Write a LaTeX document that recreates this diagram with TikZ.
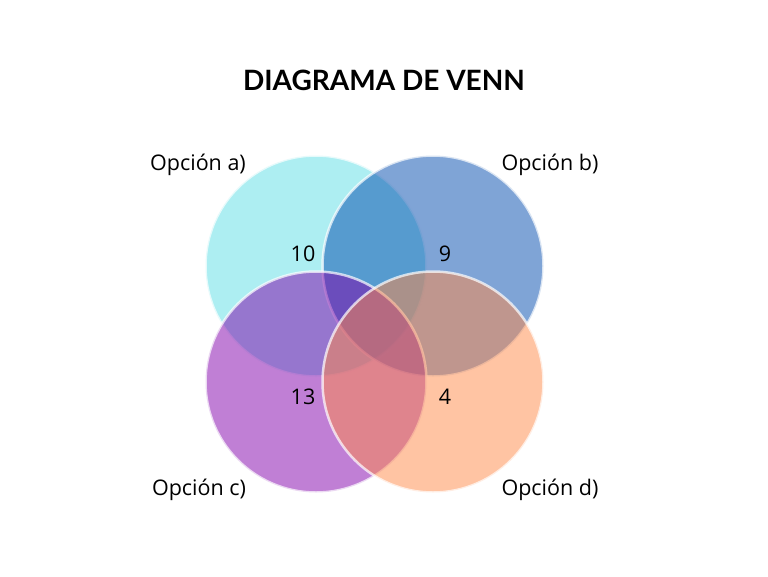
\documentclass[tikz,border=0pt]{standalone}
\usepackage{fontspec}
\setmainfont{Open Sans}
\newfontfamily\titlefont{Lato}
\definecolor{cA}{RGB}{91,221,229}
\definecolor{cB}{RGB}{0,73,173}
\definecolor{cC}{RGB}{129,0,171}
\definecolor{cD}{RGB}{255,137,71}
\begin{document}
\begin{tikzpicture}[x=1pt,y=-1pt,
  setc/.style={circle, inner sep=0pt, minimum size=221pt, fill opacity=0.5, draw=white, draw opacity=0.7, line width=2.5pt},
  lbl/.style={font=\fontsize{21.5}{25}\selectfont, text=black},
  num/.style={font=\fontsize{21.5}{25}\selectfont, text=black}]
\useasboundingbox (0,0) rectangle (768,576);
\node[font=\titlefont\bfseries\fontsize{28}{32}\selectfont] (title) at (384,80) {DIAGRAMA DE VENN};
\node[setc, fill=cA] (A) at (316,266) {};
\node[setc, fill=cB] (B) at (433,266) {};
\node[setc, fill=cC] (C) at (316,382) {};
\node[setc, fill=cD] (D) at (433,382) {};
\node[lbl] (la) at (198,164.5) {Opción a)};
\node[lbl] (lb) at (550,164.5) {Opción b)};
\node[lbl] (lc) at (199,489.5) {Opción c)};
\node[lbl] (ld) at (550,489.5) {Opción d)};
\node[num] (na) at (303,253.5) {10};
\node[num] (nb) at (445,253.5) {9};
\node[num] (nc) at (303,397) {13};
\node[num] (nd) at (445,397) {4};
\end{tikzpicture}
\end{document}
